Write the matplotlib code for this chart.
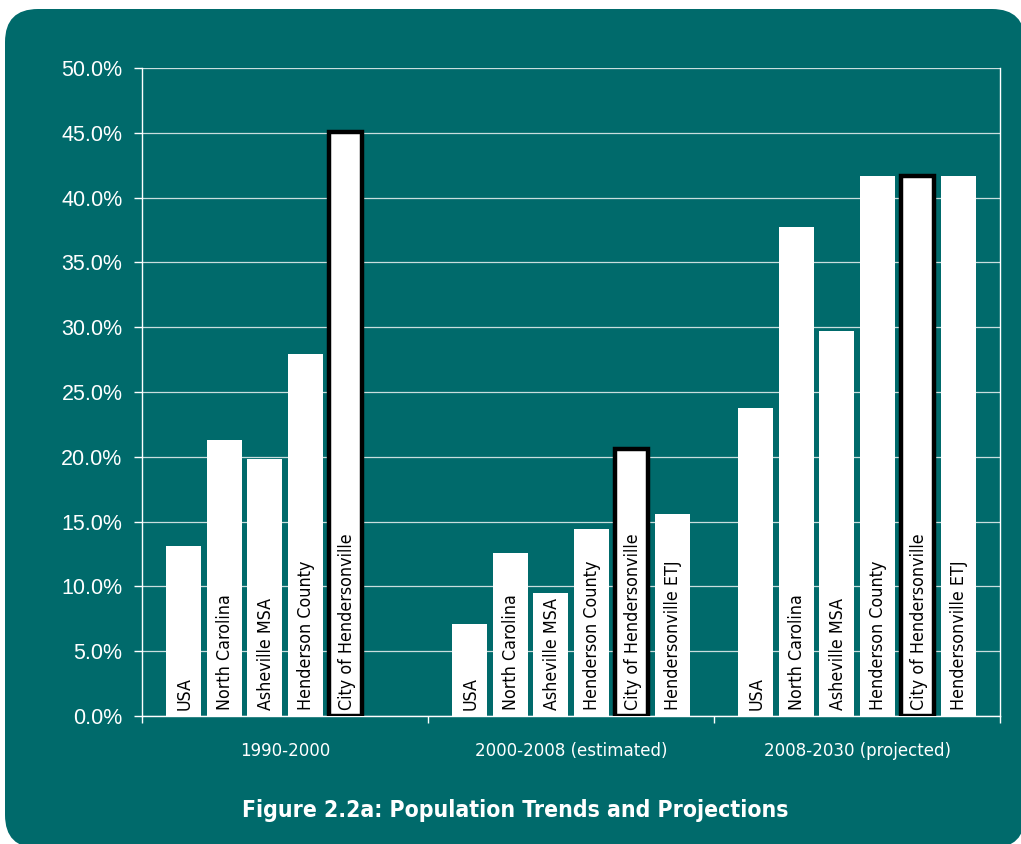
import numpy as np
import matplotlib
matplotlib.use("Agg")
import matplotlib.pyplot as plt
from matplotlib.patches import FancyBboxPatch

# ---- data ----
categories = ["1990-2000", "2000-2008 (estimated)", "2008-2030 (projected)"]
series_names = ["USA", "North Carolina", "Asheville MSA", "Henderson County",
                "City of Hendersonville", "Hendersonville ETJ"]
usa = [13.1, 7.1, 23.8]
north_carolina = [21.3, 12.6, 37.7]
asheville_msa = [19.8, 9.5, 29.7]
henderson_county = [27.9, 14.4, 41.7]
city_hendersonville = [45.1, 20.6, 41.7]
hendersonville_etj = [np.nan, 15.6, 41.7]
y_ticks = [0, 5, 10, 15, 20, 25, 30, 35, 40, 45, 50]
title = "Figure 2.2a: Population Trends and Projections"

all_series = [usa, north_carolina, asheville_msa, henderson_county,
              city_hendersonville, hendersonville_etj]
highlight = "City of Hendersonville"

TEAL = "#006A6B"
REG = ["Liberation Sans", "DejaVu Sans"]
NARROW = dict(family="DejaVu Sans", fontstretch="condensed")

fig = plt.figure(figsize=(10.21, 8.44), dpi=100, facecolor="white")

# rounded teal panel (inches)
r = 0.33
bg = FancyBboxPatch((0.05 + r, -0.04 + r), 10.20 - 2 * r, 8.39 - 2 * r,
                    boxstyle=f"round,pad={r}", transform=fig.dpi_scale_trans,
                    facecolor=TEAL, edgecolor="none", zorder=-10)
fig.patches.append(bg)

ax = fig.add_axes([142 / 1021, 1 - 716 / 844, 858 / 1021, 648 / 844], zorder=5)
ax.set_facecolor("none")

x = np.arange(len(categories))
step = 0.1416
width = 0.1224
for i, (name, vals) in enumerate(zip(series_names, all_series)):
    xpos = x + (i - 2.5) * step
    if name == highlight:
        ax.bar(xpos, vals, width=width * 0.93, color="white", edgecolor="black",
               linewidth=3.2, zorder=3)
    else:
        ax.bar(xpos, vals, width=width, color="white", edgecolor="none", zorder=3)
    for xp, v in zip(xpos, vals):
        if np.isnan(v):
            continue
        ax.text(xp + 0.004, 0.45, name, rotation=90, ha="center", va="bottom",
                fontsize=12.8, color="black", zorder=4, **NARROW)

ax.set_xlim(-0.5, 2.5)
ax.set_ylim(0, 50)
ax.set_yticks(y_ticks)
ax.set_yticklabels([f"{t:.1f}%" for t in y_ticks], family=REG, fontsize=15.5,
                   color="white")
ax.yaxis.grid(True, color="#C9DEDE", linewidth=0.9, zorder=1)
ax.set_axisbelow(True)

ax.set_xticks([-0.5, 0.5, 1.5, 2.5])
ax.set_xticklabels([])
ax.set_xticks(x, minor=True)
ax.set_xticklabels(categories, minor=True, fontsize=13.3, color="white", **NARROW)
ax.tick_params(axis="x", which="minor", length=0, pad=19)
ax.tick_params(axis="x", which="major", length=5, color="white", width=1)
ax.tick_params(axis="y", length=6, color="white", width=1, pad=8)

for s in ["left", "bottom", "right"]:
    ax.spines[s].set_color("white")
    ax.spines[s].set_linewidth(1)
ax.spines["top"].set_visible(False)

fig.text(515 / 1021, 1 - 810 / 844, title, ha="center", va="center",
         fontsize=16.5, fontweight="bold", color="white", **NARROW)

fig.savefig("out.png", dpi=100, facecolor="white")
